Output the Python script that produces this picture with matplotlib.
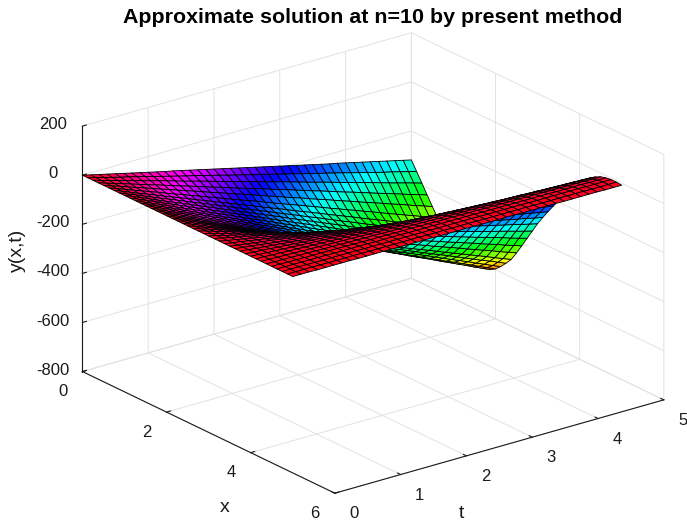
import numpy as np
import matplotlib
matplotlib.use('Agg')
import matplotlib.pyplot as plt

plt.rcParams['font.family'] = ['Liberation Sans', 'DejaVu Sans']
plt.rcParams['axes.unicode_minus'] = False

x_vals = [0, 0.125, 0.25, 0.375, 0.5, 0.625, 0.75, 0.875, 1, 1.125, 1.25, 1.375, 1.5, 1.625,
          1.75, 1.875, 2, 2.125, 2.25, 2.375, 2.5, 2.625, 2.75, 2.875, 3, 3.125, 3.25, 3.375,
          3.5, 3.625, 3.75, 3.875, 4, 4.125, 4.25, 4.375, 4.5, 4.625, 4.75, 4.875, 5]
t_vals = [0, 0.125, 0.25, 0.375, 0.5, 0.625, 0.75, 0.875, 1, 1.125, 1.25, 1.375, 1.5, 1.625,
          1.75, 1.875, 2, 2.125, 2.25, 2.375, 2.5, 2.625, 2.75, 2.875, 3, 3.125, 3.25, 3.375,
          3.5, 3.625, 3.75, 3.875, 4, 4.125, 4.25, 4.375, 4.5, 4.625, 4.75, 4.875, 5]
# depth of the surface below zero, one row per x value
y_depth = [
    [0,8,16,24,32,40,48,56,64,72,80,87,95,103,111,119,127,135,143,151,159,167,175,183,191,199,207,215,223,231,239,246,254,262,270,278,286,294,302,310,318],
    [0,9,18,27,36,44,53,62,71,80,89,98,107,115,124,133,142,151,160,169,178,186,195,204,213,222,231,240,249,257,266,275,284,293,302,311,320,328,337,346,355],
    [0,10,20,29,39,49,59,69,78,88,98,108,118,127,137,147,157,167,176,186,196,206,216,225,235,245,255,265,274,284,294,304,314,323,333,343,353,363,372,382,392],
    [0,11,22,32,43,54,65,75,86,97,108,118,129,140,151,161,172,183,194,204,215,226,237,247,258,269,280,290,301,312,323,333,344,355,366,376,387,398,409,419,430],
    [0,12,23,35,47,58,70,82,93,105,117,128,140,152,163,175,187,198,210,222,234,245,257,269,280,292,304,315,327,339,350,362,374,385,397,409,420,432,444,455,467],
    [0,13,25,38,50,63,75,88,101,113,126,138,151,163,176,189,201,214,226,239,252,264,277,289,302,314,327,340,352,365,377,390,402,415,428,440,453,465,478,490,503],
    [0,13,27,40,53,66,80,93,106,119,133,146,159,172,186,199,212,225,239,252,265,278,292,305,318,331,345,358,371,384,398,411,424,437,451,464,477,490,504,517,530],
    [0,14,27,41,55,69,82,96,110,124,137,151,165,178,192,206,220,233,247,261,275,288,302,316,329,343,357,371,384,398,412,425,439,453,467,480,494,508,522,535,549],
    [0,14,28,42,57,71,85,99,113,127,141,155,170,184,198,212,226,240,254,268,283,297,311,325,339,353,367,381,396,410,424,438,452,466,480,494,509,523,537,551,565],
    [0,14,29,43,58,72,87,101,116,130,145,159,174,188,203,217,232,246,261,275,290,304,318,333,347,362,376,391,405,420,434,449,463,478,492,507,521,536,550,565,579],
    [0,15,30,44,59,74,89,103,118,133,148,162,177,192,207,221,236,251,266,280,295,310,325,339,354,369,384,398,413,428,443,457,472,487,502,516,531,546,561,575,590],
    [0,15,30,45,60,75,90,105,120,135,150,165,180,195,210,225,240,255,270,285,300,314,329,344,359,374,389,404,419,434,449,464,479,494,509,524,539,554,569,584,599],
    [0,15,30,45,61,76,91,106,121,136,151,166,182,197,212,227,242,257,272,287,303,318,333,348,363,378,393,408,424,439,454,469,484,499,514,529,545,560,575,590,605],
    [0,15,31,46,61,76,92,107,122,137,153,168,183,198,214,229,244,259,275,290,305,320,336,351,366,381,397,412,427,442,458,473,488,503,519,534,549,564,580,595,610],
    [0,15,31,46,61,77,92,107,122,138,153,168,184,199,214,230,245,260,275,291,306,321,337,352,367,383,398,413,428,444,459,474,490,505,520,536,551,566,581,597,612],
    [0,15,31,46,61,76,92,107,122,137,153,168,183,198,214,229,244,259,275,290,305,320,336,351,366,381,397,412,427,442,458,473,488,503,519,534,549,564,580,595,610],
    [0,15,30,45,60,75,90,104,119,134,149,164,179,194,209,224,239,254,269,284,299,313,328,343,358,373,388,403,418,433,448,463,478,493,508,522,537,552,567,582,597],
    [0,14,29,43,58,72,87,101,115,130,144,159,173,188,202,216,231,245,260,274,289,303,317,332,346,361,375,390,404,418,433,447,462,476,491,505,519,534,548,563,577],
    [0,14,28,41,55,69,83,97,111,124,138,152,166,180,194,207,221,235,249,263,277,290,304,318,332,346,360,373,387,401,415,429,442,456,470,484,498,512,525,539,553],
    [0,13,26,40,53,66,79,92,105,119,132,145,158,171,184,198,211,224,237,250,264,277,290,303,316,329,343,356,369,382,395,408,422,435,448,461,474,487,501,514,527],
    [0,12,25,37,49,61,74,86,98,110,123,135,147,159,172,184,196,208,221,233,245,257,270,282,294,306,319,331,343,355,368,380,392,404,417,429,441,453,466,478,490],
    [0,11,23,34,45,56,68,79,90,101,113,124,135,147,158,169,180,192,203,214,226,237,248,259,271,282,293,304,316,327,338,350,361,372,383,395,406,417,429,440,451],
    [0,10,21,31,41,51,62,72,82,92,103,113,123,133,144,154,164,174,185,195,205,215,226,236,246,256,267,277,287,297,308,318,328,338,349,359,369,379,390,400,410],
    [0,9,19,28,37,46,56,65,74,83,93,102,111,120,130,139,148,157,167,176,185,194,204,213,222,231,241,250,259,268,278,287,296,305,315,324,333,342,352,361,370],
    [0,8,17,25,33,41,50,58,66,74,83,91,99,107,116,124,132,140,149,157,165,173,182,190,198,206,215,223,231,239,248,256,264,272,281,289,297,305,314,322,330],
    [0,7,15,22,29,37,44,51,59,66,74,81,88,96,103,110,118,125,132,140,147,154,162,169,176,184,191,198,206,213,221,228,235,243,250,257,265,272,279,287,294],
    [0,7,13,20,26,33,39,46,52,59,65,72,78,85,91,98,104,111,117,124,130,137,143,150,156,163,169,176,182,189,195,202,208,215,221,228,234,241,247,254,260],
    [0,6,11,17,23,28,34,40,45,51,57,62,68,74,79,85,91,96,102,108,114,119,125,131,136,142,148,153,159,165,170,176,182,187,193,199,204,210,216,221,227],
    [0,5,10,15,20,24,29,34,39,44,49,54,59,63,68,73,78,83,88,93,98,102,107,112,117,122,127,132,137,141,146,151,156,161,166,171,176,180,185,190,195],
    [0,4,8,12,17,21,25,29,33,37,41,45,50,54,58,62,66,70,74,78,83,87,91,95,99,103,107,111,116,120,124,128,132,136,140,144,149,153,157,161,165],
    [0,3,7,10,14,17,20,24,27,30,34,37,41,44,47,51,54,57,61,64,68,71,74,78,81,84,88,91,95,98,101,105,108,111,115,118,122,125,128,132,135],
    [0,3,5,8,11,13,16,19,21,24,27,29,32,35,37,40,43,45,48,51,54,56,59,62,64,67,70,72,75,78,80,83,86,88,91,94,96,99,102,104,107],
    [0,2,4,6,8,10,12,14,16,18,20,22,24,26,28,30,32,34,36,38,40,42,44,46,48,50,52,54,56,58,60,62,64,66,68,70,72,74,76,78,80],
    [0,1,3,4,6,7,9,10,12,13,15,16,17,19,20,22,23,25,26,28,29,30,32,33,35,36,38,39,41,42,44,45,46,48,49,51,52,54,55,57,58],
    [0,1,2,3,4,5,6,7,8,9,10,11,12,13,14,15,16,17,18,19,20,21,22,23,24,25,26,27,28,29,30,31,32,33,34,35,36,37,38,39,40],
    [0,1,1,2,3,3,4,5,5,6,7,7,8,8,9,10,10,11,12,12,13,14,14,15,16,16,17,18,18,19,20,20,21,21,22,23,23,24,25,25,26],
    [0,0,1,1,2,2,2,3,3,3,4,4,5,5,5,6,6,6,7,7,8,8,8,9,9,9,10,10,11,11,11,12,12,12,13,13,14,14,14,15,15],
    [0,0,0,1,1,1,1,2,2,2,2,2,3,3,3,3,4,4,4,4,5,5,5,5,5,6,6,6,6,7,7,7,7,7,8,8,8,8,9,9,9],
    [0,0,0,0,1,1,1,1,1,1,2,2,2,2,2,2,2,3,3,3,3,3,3,3,4,4,4,4,4,4,5,5,5,5,5,5,5,6,6,6,6],
    [0,0,0,0,1,1,1,1,1,1,2,2,2,2,2,2,2,3,3,3,3,3,3,3,4,4,4,4,4,4,5,5,5,5,5,5,5,6,6,6,6],
    [0,0,0,1,1,1,1,1,2,2,2,2,2,3,3,3,3,3,4,4,4,4,4,5,5,5,5,5,6,6,6,6,6,7,7,7,7,7,8,8,8],
]
x_ticks = [0, 2, 4, 6]
t_ticks = [0, 1, 2, 3, 4, 5]
y_ticks = [-800, -600, -400, -200, 0, 200]

T, X = np.meshgrid(t_vals, x_vals)
Y = -np.array(y_depth, dtype=float)

fig = plt.figure(figsize=(6.87, 5.24), dpi=100)
# square axes bigger than the figure, otherwise the aspect box clips the surface
ax = fig.add_axes([-37.7 / 687, -149.8 / 524, 800 / 687, 800 / 524],
                  projection='3d', proj_type='ortho')
ax.view_init(elev=21.7, azim=-37.5)
ax.set_box_aspect((1, 1, 0.637), zoom=0.7805)
ax.plot_surface(X, T, Y, cmap='hsv', vmin=-640, vmax=0, rstride=1, cstride=1,
                edgecolor='black', linewidth=0.6, shade=False, antialiased=True)
ax.set_xlim(0, 6, view_margin=0)
ax.set_ylim(0, 5, view_margin=0)
ax.set_zlim(-800, 200, view_margin=0)
ax.set_xticks(x_ticks)
ax.set_yticks(t_ticks)
ax.set_zticks(y_ticks)
ax.tick_params(labelsize=12, colors='#1a1a1a')
ax.tick_params(axis='x', pad=10)
ax.tick_params(axis='y', pad=9)
ax.tick_params(axis='z', pad=7)
for axis in (ax.xaxis, ax.yaxis, ax.zaxis):
    axis.set_pane_color((1, 1, 1, 0))
    axis.pane.set_edgecolor((1, 1, 1, 0))
    axis.line.set_color('#1a1a1a')
    axis.line.set_linewidth(0.8)
    axis._axinfo['grid']['color'] = '#e2e2e2'
    axis._axinfo['grid']['linewidth'] = 0.7
    axis._axinfo['tick']['inward_factor'] = 0
    axis._axinfo['tick']['outward_factor'] = 0.15
ax.zaxis.set_ticks_position('lower')
plt.setp(ax.get_xticklabels(), va='center')
plt.setp(ax.get_yticklabels(), va='center', ha='left')
plt.setp(ax.get_zticklabels(), va='center')
fig.text(225 / 687, 1 - 508 / 524, 'x', ha='center', va='center', fontsize=14, color='#1a1a1a')
fig.text(461 / 687, 1 - 514 / 524, 't', ha='center', va='center', fontsize=14, color='#1a1a1a')
fig.text(17 / 687, 1 - 250 / 524, 'y(x,t)', ha='center', va='center', rotation=90,
         fontsize=14, color='#1a1a1a')
fig.text(373 / 687, 1 - 17.5 / 524, 'Approximate solution at n=10 by present method',
         ha='center', va='center', fontsize=15.4, fontweight='bold')

fig.savefig('out.png', dpi=100)
